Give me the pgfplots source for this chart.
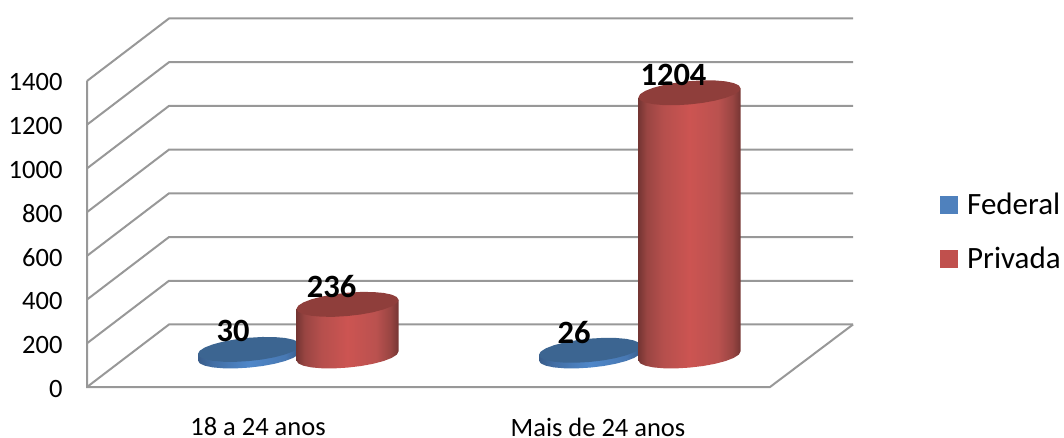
\documentclass[border=0pt]{standalone}
\usepackage{fontspec}
\setmainfont{Carlito}
\usepackage{pgfplots}
\usepackage{pgfplotstable}
\pgfplotsset{compat=1.18}
\definecolor{gridc}{HTML}{989898}
\definecolor{fedc}{HTML}{4F81BD}
\definecolor{prvc}{HTML}{C0504D}
\definecolor{fedtop}{HTML}{3C6591}
\definecolor{prvtop}{HTML}{8F3E3B}
\pgfdeclarehorizontalshading{redcyl}{100bp}{
 rgb(0bp)=(0.46,0.21,0.20);
 rgb(25bp)=(0.46,0.21,0.20);
 rgb(29bp)=(0.60,0.27,0.26);
 rgb(37bp)=(0.71,0.31,0.30);
 rgb(50bp)=(0.80,0.33,0.32);
 rgb(64bp)=(0.73,0.32,0.31);
 rgb(71bp)=(0.60,0.27,0.26);
 rgb(75bp)=(0.46,0.21,0.20);
 rgb(100bp)=(0.46,0.21,0.20)}
\pgfdeclarehorizontalshading{bluecyl}{100bp}{
 rgb(0bp)=(0.22,0.36,0.54);
 rgb(25bp)=(0.22,0.36,0.54);
 rgb(32bp)=(0.26,0.43,0.64);
 rgb(50bp)=(0.31,0.53,0.79);
 rgb(68bp)=(0.28,0.47,0.70);
 rgb(75bp)=(0.22,0.36,0.54);
 rgb(100bp)=(0.22,0.36,0.54)}
% Outlines of the cylinders: dx in px, dy in value units
\pgfplotstableread{
dx dy
51 20.6
49.3 33.7
44.2 44.5
36.1 52.3
25.5 56.5
13.2 56.8
0 53.3
-13.2 46.2
-25.5 35.9
-36.1 23.1
-44.2 8.8
-49.3 -6.1
-51 -20.6
-49.3 -33.7
-44.2 -44.5
-36.1 -52.3
-25.5 -56.5
-13.2 -56.8
0 -53.3
13.2 -46.2
25.5 -35.9
36.1 -23.1
44.2 -8.8
49.3 6.1
}\toptab
\pgfplotstableread{
dx dy top
51 20.6 1
51 20.6 0
49.3 6.1 0
44.2 -8.8 0
36.1 -23.1 0
25.5 -35.9 0
13.2 -46.2 0
0 -53.3 0
-13.2 -56.8 0
-25.5 -56.5 0
-36.1 -52.3 0
-44.2 -44.5 0
-49.3 -33.7 0
-51 -20.6 0
-51 -20.6 1
}\bodytab
\pgfplotstableread{
cx v label
249 30 30
347.5 236 236
590 26 26
689.5 1204 1204
}\labeltab
\newcommand{\cyl}[4]{%
 \addplot[forget plot,draw=none,shade,shading=#3] table[x expr=\thisrow{dx}+#1,y expr=\thisrow{dy}+142+\thisrow{top}*#2] {\bodytab};
 \addplot[forget plot,draw=none,fill=#4] table[x expr=\thisrow{dx}+#1,y expr=\thisrow{dy}+142+#2] {\toptab};
}
\newcommand{\gridl}[1]{%
 \addplot[forget plot,gridc,line width=2pt] coordinates {(87,#1) (169,#1+286) (853,#1+286)};
}
\begin{document}
\begin{tikzpicture}[x=1pt,y=1pt]
\begin{axis}[
 scale only axis,width=1064pt,height=437pt,
 xmin=0,xmax=1064,ymin=-228.75,ymax=1770.5,
 axis line style={draw=none},
 tick style={draw=none},
 xtick={258,598},
 xticklabels={18 a 24 anos,Mais de 24 anos},
 ytick={0,200,...,1400},
 /pgf/number format/assume math mode=true,
 /pgf/number format/1000 sep={},
 tick label style={font=\fontsize{26.5}{30}\selectfont},
 yticklabel style={anchor=east,xshift=66pt,yshift=-1.5pt},
 xticklabel style={anchor=center,yshift=10pt,inner sep=0pt},
 legend cell align=left,
 legend image code/.code={\path[#1] (0pt,-9pt) rectangle (18pt,9pt);},
 legend style={at={(axis cs:940,897)},anchor=north west,draw=none,fill=none,inner sep=0pt,
   font=\fontsize{31}{34}\selectfont,row sep=27pt},
]
\addlegendimage{fill=fedc,draw=none}\addlegendentry{\hspace{7pt}Federal}
\addlegendimage{fill=prvc,draw=none}\addlegendentry{\hspace{7pt}Privada}
\gridl{0}\gridl{200}\gridl{400}\gridl{600}\gridl{800}\gridl{1000}\gridl{1200}\gridl{1400}
\addplot[forget plot,gridc,line width=2pt] coordinates {(87,1400) (87,0) (770,0) (853,286)};
\cyl{249}{30}{bluecyl}{fedtop}
\cyl{347.5}{236}{redcyl}{prvtop}
\cyl{590}{26}{bluecyl}{fedtop}
\cyl{689.5}{1204}{redcyl}{prvtop}
\addplot[forget plot,draw=none,nodes near coords,point meta=explicit symbolic,
 every node near coord/.style={anchor=center,xshift=-16pt,yshift=18pt,black,font=\fontsize{32.5}{34}\selectfont\bfseries}]
 table[x=cx,y expr=\thisrow{v}+142,meta=label] {\labeltab};
\end{axis}
\end{tikzpicture}
\end{document}
